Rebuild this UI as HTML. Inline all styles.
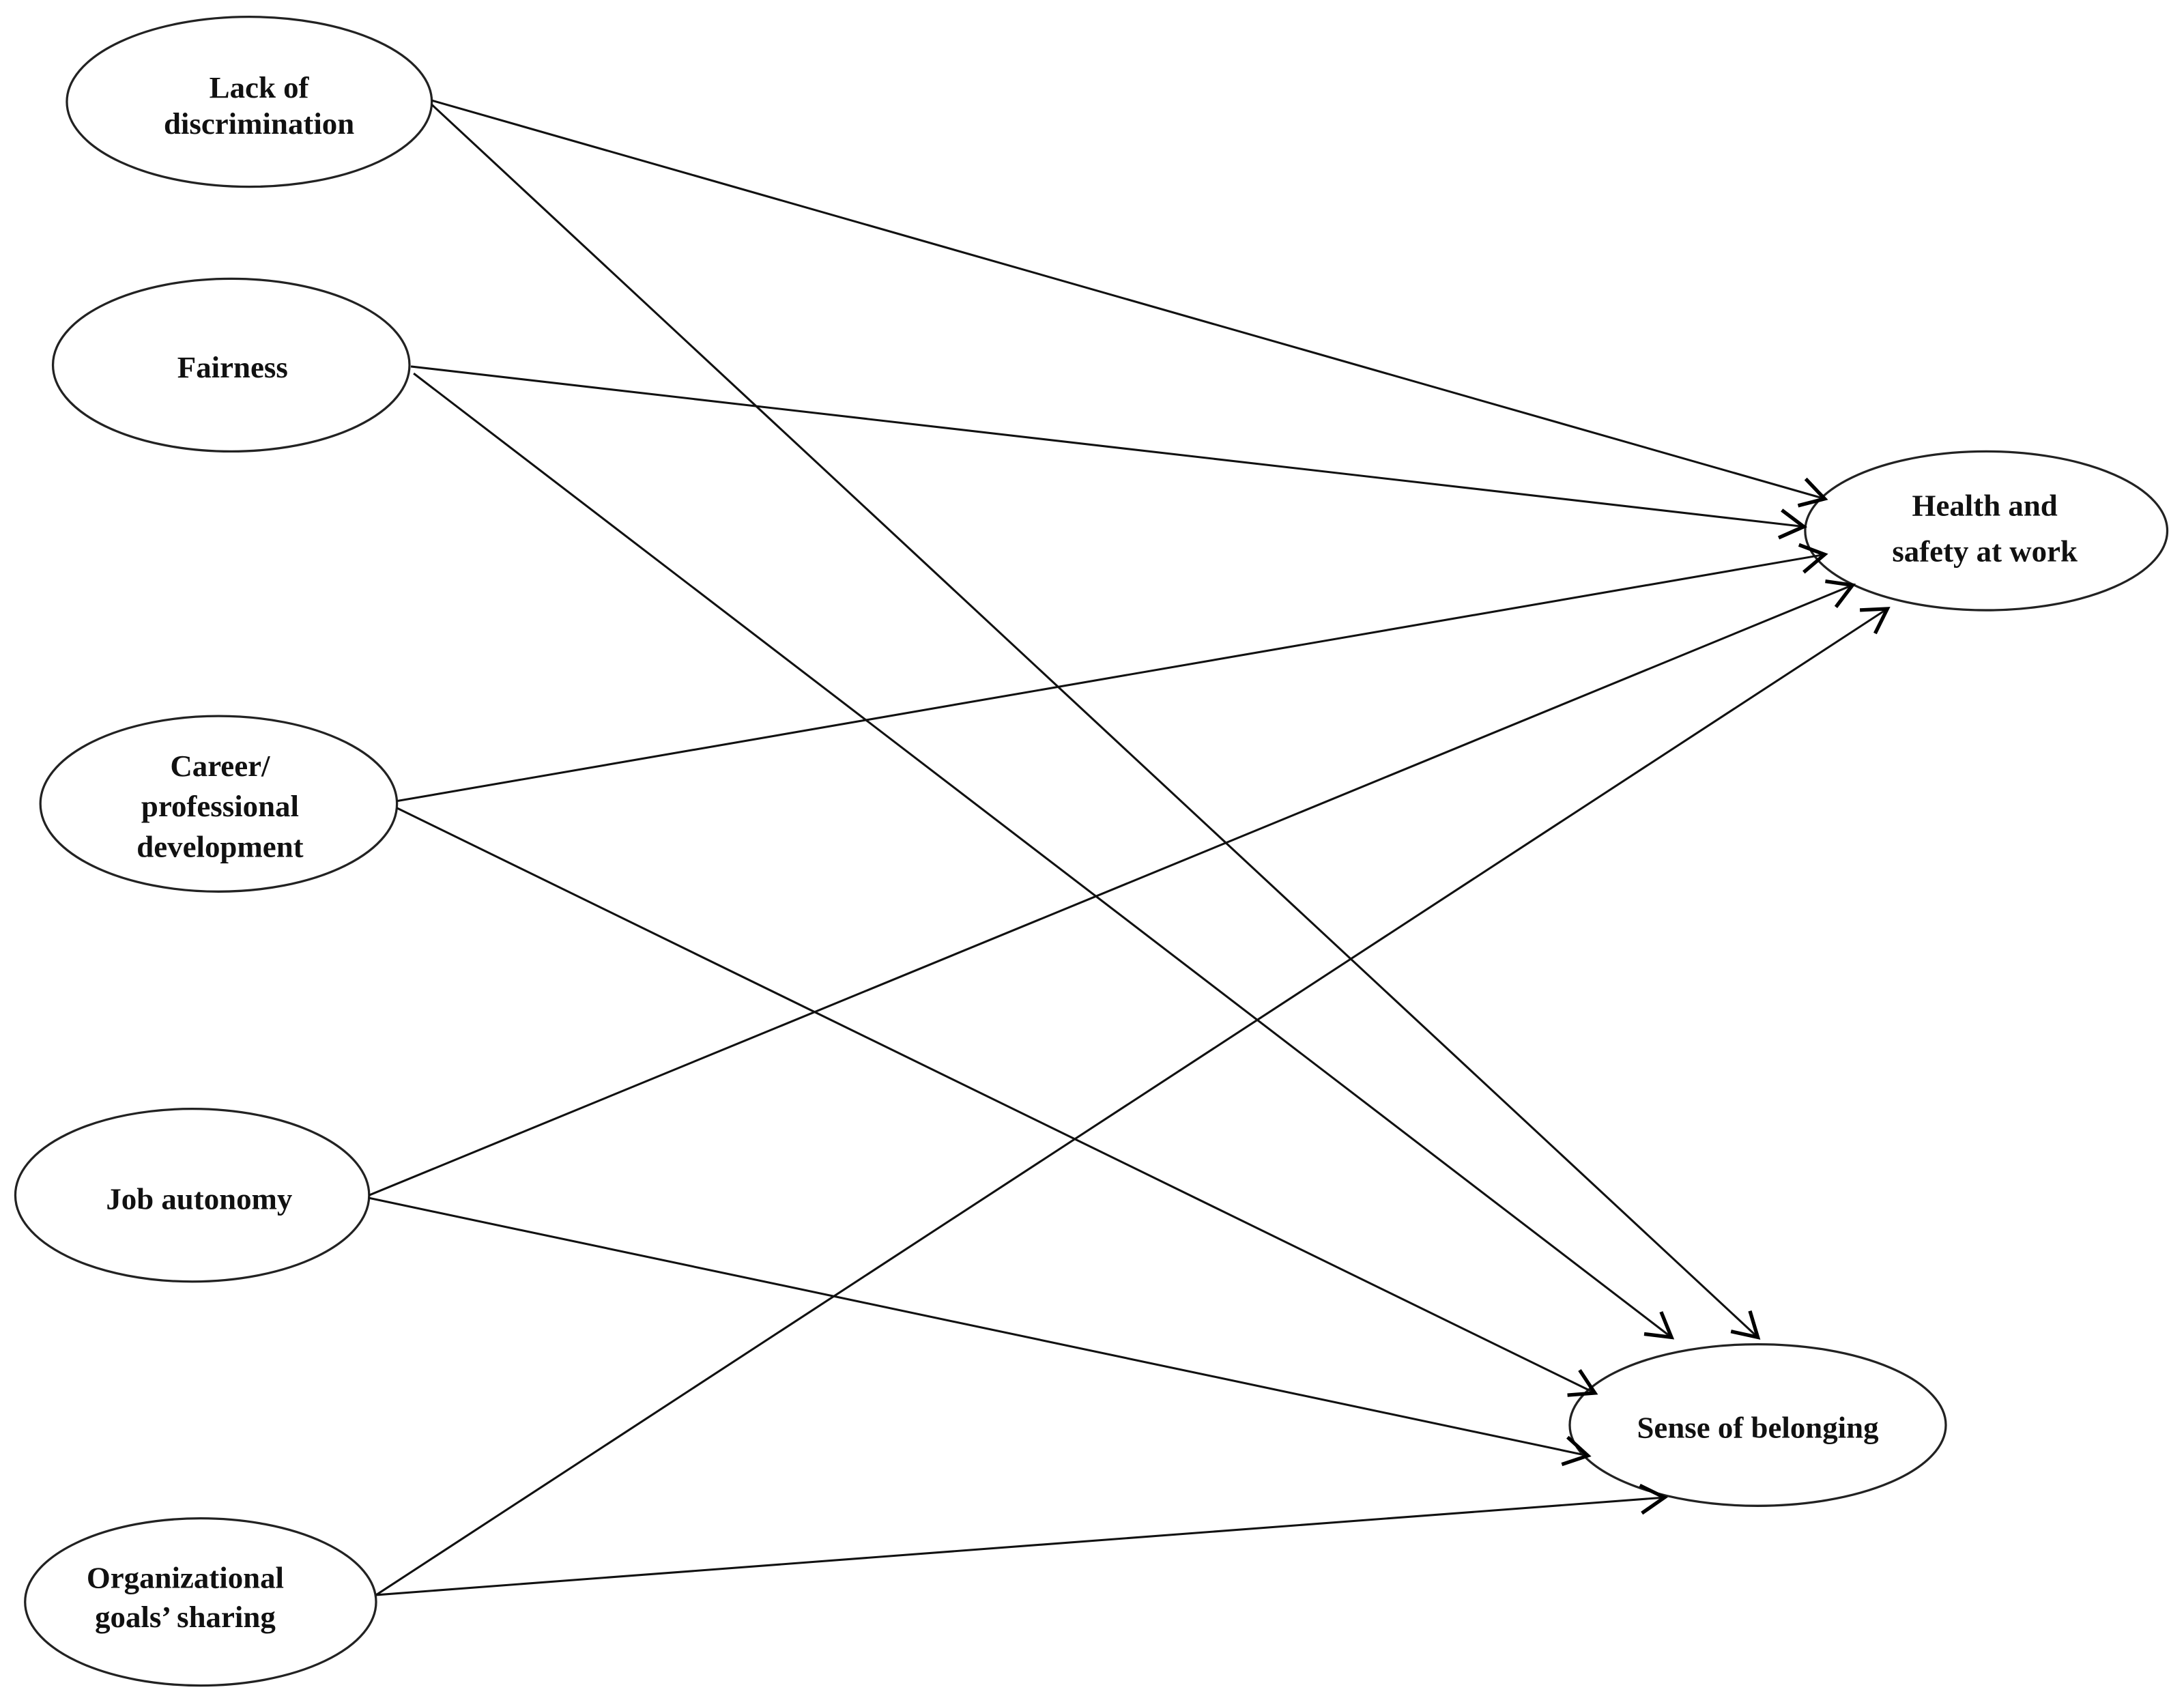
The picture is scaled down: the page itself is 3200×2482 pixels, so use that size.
<!DOCTYPE html>
<html><head><meta charset="utf-8"><style>
html,body{margin:0;padding:0;background:#fff;}
svg{display:block;}
text{font-family:"Liberation Serif",serif;font-weight:bold;font-size:22px;fill:#111;text-anchor:middle;}
</style></head><body>
<svg width="3200" height="2482" viewBox="0 0 1568 1216" xmlns="http://www.w3.org/2000/svg">
<defs>
<marker id="a" markerUnits="userSpaceOnUse" markerWidth="30" markerHeight="30" refX="0" refY="0" viewBox="-20 -15 25 30" orient="auto">
<path d="M-17,-10 L0,0 L-17,10" fill="none" stroke="#000" stroke-width="2.6"/>
</marker>
</defs>
<g fill="none" stroke="#222" stroke-width="1.6">
<ellipse cx="179" cy="73" rx="131" ry="61"/>
<ellipse cx="166" cy="262" rx="128" ry="62"/>
<ellipse cx="157" cy="577" rx="128" ry="63"/>
<ellipse cx="138" cy="858" rx="127" ry="62"/>
<ellipse cx="144" cy="1150" rx="126" ry="60"/>
<ellipse cx="1426" cy="381" rx="130" ry="57"/>
<ellipse cx="1262" cy="1023" rx="135" ry="58"/>
</g>
<g stroke="#111" stroke-width="1.5" marker-end="url(#a)">
<line x1="310" y1="72" x2="1310" y2="358"/>
<line x1="310" y1="75" x2="1262" y2="960"/>
<line x1="295" y1="263" x2="1295" y2="378"/>
<line x1="297" y1="268" x2="1200" y2="960"/>
<line x1="285" y1="575" x2="1310" y2="398"/>
<line x1="285" y1="580" x2="1145" y2="1000"/>
<line x1="265" y1="858" x2="1330" y2="420"/>
<line x1="265" y1="860" x2="1140" y2="1045"/>
<line x1="270" y1="1145" x2="1355" y2="437"/>
<line x1="270" y1="1145" x2="1195" y2="1075"/>
</g>
<text x="186" y="70">Lack of</text>
<text x="186" y="96">discrimination</text>
<text x="167" y="271">Fairness</text>
<text x="158" y="557">Career/</text>
<text x="158" y="586">professional</text>
<text x="158" y="615">development</text>
<text x="143" y="868">Job autonomy</text>
<text x="133" y="1140">Organizational</text>
<text x="133" y="1168">goals’ sharing</text>
<text x="1425" y="370">Health and</text>
<text x="1425" y="403">safety at work</text>
<text x="1262" y="1032">Sense of belonging</text>
</svg>
</body></html>
